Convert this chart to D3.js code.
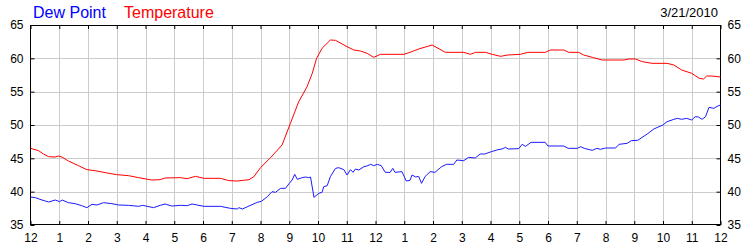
<!DOCTYPE html>
<html>
<head>
<meta charset="utf-8">
<script src="https://cdn.jsdelivr.net/npm/d3@7"></script>
<style>
  body { margin: 0; background: #fff; }
  svg { display: block; font-family: "Liberation Sans", Arial, sans-serif; }
</style>
</head>
<body>
<svg id="chart" width="750" height="250"></svg>
<script>
// hour ticks across the day
const hourLabels = ['12','1','2','3','4','5','6','7','8','9','10','11','12','1','2','3','4','5','6','7','8','9','10','11','12']
const valueTicks = [35, 40, 45, 50, 55, 60, 65]
const dateLabel = '3/21/2010'

// dew point readings (hour of day, deg F)
const dewHours = [0, 0.17, 0.4, 0.63, 0.86, 1.01, 1.1, 1.32, 1.55, 1.78, 1.96, 2.14, 2.31, 2.54, 2.83, 3.06, 3.41, 3.76, 3.9, 4.28, 4.51, 4.68, 4.91, 5.22, 5.45, 5.62, 6.03, 6.61, 6.95, 7.19, 7.25, 7.37, 7.6, 7.89, 8.03, 8.24, 8.4, 8.52, 8.7, 8.87, 9.0, 9.1, 9.19, 9.28, 9.45, 9.57, 9.68, 9.74, 9.86, 10.03, 10.14, 10.2, 10.32, 10.43, 10.61, 10.72, 10.9, 11.01, 11.13, 11.22, 11.3, 11.42, 11.6, 11.7, 11.83, 11.94, 12.06, 12.2, 12.34, 12.51, 12.6, 12.68, 12.92, 13.07, 13.2, 13.27, 13.4, 13.5, 13.6, 13.73, 13.9, 14.07, 14.3, 14.47, 14.72, 14.83, 15.07, 15.24, 15.47, 15.64, 15.8, 16.03, 16.26, 16.4, 16.52, 16.62, 16.98, 17.1, 17.22, 17.41, 17.9, 18.0, 18.55, 18.7, 19.02, 19.14, 19.26, 19.54, 19.7, 19.82, 20.0, 20.35, 20.47, 20.75, 20.9, 21.12, 21.45, 21.68, 21.86, 22.0, 22.14, 22.38, 22.5, 22.65, 22.82, 23.0, 23.12, 23.23, 23.36, 23.48, 23.6, 23.77, 23.88, 24.0]
const dewValues = [39.2, 39.1, 38.75, 38.45, 38.75, 38.5, 38.75, 38.35, 38.2, 37.9, 37.6, 38.1, 38.0, 38.35, 38.2, 38.0, 37.95, 37.8, 37.95, 37.6, 37.95, 38.15, 37.85, 37.95, 37.9, 38.15, 37.8, 37.8, 37.5, 37.4, 37.6, 37.4, 37.85, 38.4, 38.55, 39.25, 40.0, 39.9, 40.5, 40.5, 41.25, 41.75, 42.6, 41.85, 42.1, 42.2, 42.1, 42.2, 39.15, 39.75, 39.9, 40.75, 40.9, 42.25, 43.5, 43.6, 43.3, 42.5, 43.3, 42.9, 43.4, 43.25, 43.75, 43.85, 44.1, 43.9, 44.1, 43.9, 42.9, 42.9, 43.5, 42.9, 43.0, 41.6, 41.7, 42.5, 42.2, 42.3, 41.25, 42.3, 43.0, 42.9, 43.75, 44.1, 44.1, 44.75, 44.65, 45.15, 45.05, 45.65, 45.65, 46.0, 46.3, 46.4, 46.65, 46.4, 46.45, 47.1, 46.8, 47.4, 47.4, 46.85, 46.85, 46.5, 46.5, 46.75, 46.5, 46.2, 46.5, 46.35, 46.55, 46.55, 47.1, 47.25, 47.65, 47.7, 48.65, 49.4, 49.75, 50.0, 50.5, 50.85, 51.0, 50.85, 51.0, 50.75, 51.25, 51.2, 50.85, 51.25, 52.65, 52.5, 52.8, 53.0]

// temperature readings (hour of day, deg F)
const tempHours = [0, 0.28, 0.45, 0.63, 0.86, 0.97, 1.09, 1.32, 1.67, 1.96, 2.25, 2.6, 3.0, 3.41, 3.76, 4.22, 4.51, 4.68, 5.22, 5.45, 5.74, 6.03, 6.61, 6.9, 7.19, 7.6, 7.77, 8.0, 8.35, 8.75, 9.04, 9.33, 9.62, 9.8, 9.95, 10.14, 10.43, 10.61, 11.01, 11.25, 11.48, 11.71, 11.94, 12.17, 12.99, 13.2, 13.5, 13.97, 14.43, 15.07, 15.3, 15.48, 15.83, 16.06, 16.35, 16.6, 17.04, 17.3, 17.91, 18.08, 18.55, 18.72, 19.07, 19.24, 19.54, 19.88, 20.64, 20.81, 21.04, 21.28, 21.62, 22.14, 22.38, 22.65, 23.0, 23.26, 23.41, 23.52, 23.7, 24.0]
const tempValues = [46.5, 46.15, 45.65, 45.25, 45.2, 45.35, 45.2, 44.6, 43.9, 43.3, 43.15, 42.85, 42.55, 42.4, 42.1, 41.75, 41.8, 42.05, 42.1, 41.95, 42.3, 42.0, 42.0, 41.65, 41.6, 41.8, 42.25, 43.6, 45.1, 47.0, 50.25, 53.5, 55.75, 57.75, 60.0, 61.5, 62.75, 62.7, 61.75, 61.25, 61.1, 60.75, 60.15, 60.6, 60.6, 60.9, 61.4, 62.0, 60.9, 60.9, 60.6, 60.9, 60.9, 60.6, 60.3, 60.5, 60.6, 60.9, 60.9, 61.25, 61.25, 60.9, 60.9, 60.5, 60.15, 59.75, 59.75, 59.9, 59.9, 59.5, 59.25, 59.25, 59.0, 58.25, 57.75, 57.0, 56.9, 57.35, 57.35, 57.2]

// Layout
const plotLeft = 30.5, plotRight = 720.5, plotTop = 25, plotBottom = 225

const svg = d3.select('#chart')

const x = d3.scaleLinear().domain([0, 24]).range([plotLeft, plotRight])
const y = d3.scaleLinear().domain([35, 65]).range([plotBottom, plotTop])
const hours = d3.range(0, 25)

// grid
const grid = svg.append('g').attr('stroke', '#cccccc').attr('stroke-width', 1)
grid.selectAll('line.v')
  .data(hours.slice(1, -1))
  .enter().append('line')
  .attr('x1', d => Math.round(x(d)) + 0.5).attr('x2', d => Math.round(x(d)) + 0.5)
  .attr('y1', plotTop).attr('y2', plotBottom)
grid.selectAll('line.h')
  .data(valueTicks.slice(1, -1))
  .enter().append('line')
  .attr('x1', plotLeft).attr('x2', plotRight)
  .attr('y1', d => Math.round(y(d)) + 0.5).attr('y2', d => Math.round(y(d)) + 0.5)

// axes with inside ticks
const fmtHour = d => hourLabels[d]
const styleAxis = g => {
  g.select('.domain').remove()
  g.selectAll('line').attr('stroke', '#000')
  g.selectAll('text').attr('fill', '#000').style('font-size', '12px')
    .style('font-family', '"Liberation Sans", Arial, sans-serif')
}

svg.append('g')
  .attr('transform', `translate(0,${plotBottom})`)
  .call(d3.axisBottom(x).tickValues(hours).tickFormat(fmtHour).tickSize(-4).tickPadding(8).offset(0.5))
  .call(styleAxis)

svg.append('g')
  .attr('transform', `translate(0,${plotTop})`)
  .call(d3.axisTop(x).tickValues(hours).tickFormat('').tickSize(-4).offset(0.5))
  .call(styleAxis)

svg.append('g')
  .attr('transform', `translate(${plotLeft},0)`)
  .call(d3.axisLeft(y).tickValues(valueTicks).tickSize(-4).tickPadding(7).offset(0.5))
  .call(styleAxis)

svg.append('g')
  .attr('transform', `translate(${plotRight},0)`)
  .call(d3.axisRight(y).tickValues(valueTicks).tickSize(-4).tickPadding(7).offset(0.5))
  .call(styleAxis)

// frame
svg.append('rect')
  .attr('x', plotLeft).attr('y', plotTop + 0.5)
  .attr('width', plotRight - plotLeft).attr('height', plotBottom - plotTop - 1)
  .attr('fill', 'none').attr('stroke', '#000').attr('stroke-width', 1)

// series lines
const line = d3.line().x(d => x(d[0])).y(d => y(d[1]))

svg.append('path')
  .datum(d3.zip(dewHours, dewValues))
  .attr('fill', 'none').attr('stroke', '#1a1aff').attr('stroke-width', 1)
  .attr('d', line)

svg.append('path')
  .datum(d3.zip(tempHours, tempValues))
  .attr('fill', 'none').attr('stroke', '#ff0000').attr('stroke-width', 1)
  .attr('d', line)

// legend + date
svg.append('text').attr('x', 33).attr('y', 18).attr('fill', '#0000ff')
  .style('font-size', '16px').text('Dew Point')
svg.append('text').attr('x', 124).attr('y', 18).attr('fill', '#ff0000')
  .style('font-size', '16px').text('Temperature')
svg.append('text').attr('x', 718).attr('y', 17).attr('text-anchor', 'end').attr('fill', '#000')
  .style('font-size', '13px').text(dateLabel)
</script>
</body>
</html>
